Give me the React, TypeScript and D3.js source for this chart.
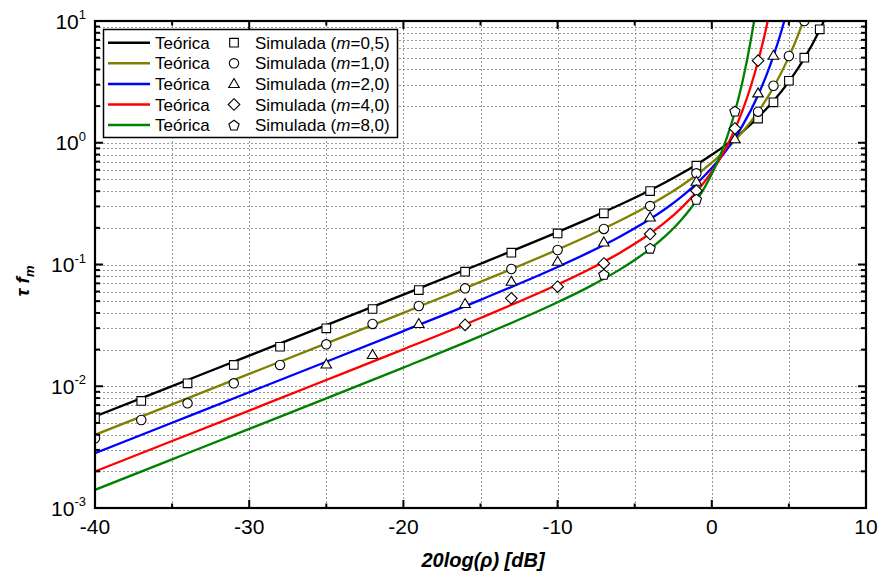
import React from 'react';
import * as d3 from 'd3';

const W = 882;
const H = 579;
const PL = 95, PR = 866, PT = 21, PB = 508;

// x axis ticks (dB)
const xMajorTicks = [-40, -30, -20, -10, 0, 10];
const xMinorTicks = [-35, -25, -15, -5, 5];
const yDecadeExps = [-3, -2, -1, 0, 1];

// Theoretical curves
const thX_m05 = [-40, -35, -30, -25, -20, -15, -10, -8, -6, -4, -3, -2, -1, 0, 1, 2, 3, 4, 5, 6, 7, 7.5];
const thY_m05 = [0.005642, 0.010034, 0.017847, 0.03176, 0.05661, 0.10139, 0.18448, 0.23686, 0.30767, 0.4072, 0.47334, 0.55545, 0.65975, 0.79589, 0.97949, 1.23699, 1.615, 2.20217, 3.17774, 4.9376, 8.4476, 11.557];

const thX_m1 = [-40, -35, -30, -25, -20, -15, -10, -8, -6, -4, -3, -2, -1, 0, 0.5, 1, 2, 3, 4, 5, 5.5, 6];
const thY_m1 = [0.0039896, 0.0070955, 0.012622, 0.02247, 0.040095, 0.072077, 0.132522, 0.1721, 0.227287, 0.30919, 0.36667, 0.441679, 0.542995, 0.685495, 0.780009, 0.896608, 1.229202, 1.794594, 2.85147, 5.0756, 7.1476, 10.512];

const thX_m2 = [-40, -35, -30, -25, -20, -15, -10, -8, -6, -4, -3, -2, -1, 0, 0.5, 1, 1.5, 2, 3, 3.5, 4, 4.5, 4.75];
const thY_m2 = [0.0028211, 0.0050176, 0.0089266, 0.015897, 0.028399, 0.051238, 0.095463, 0.125172, 0.168358, 0.236354, 0.28716, 0.357486, 0.459933, 0.619066, 0.734286, 0.8871, 1.095335, 1.387847, 2.456812, 3.475285, 5.171315, 8.165463, 10.52286];

const thX_m4 = [-40, -35, -30, -25, -20, -15, -10, -8, -6, -4, -3, -2, -1, 0, 0.5, 1, 1.5, 2, 2.5, 3, 3.5, 3.75];
const thY_m4 = [0.0019949, 0.0035481, 0.0063128, 0.011245, 0.020108, 0.036389, 0.068481, 0.090647, 0.123977, 0.179582, 0.223907, 0.289445, 0.394003, 0.578432, 0.728932, 0.950677, 1.293335, 1.85312, 2.8294, 4.665816, 8.438972, 11.81057];

const thX_m8 = [-40, -35, -30, -25, -20, -15, -10, -8, -7, -6, -5, -4, -3, -2, -1, -0.5, 0, 0.5, 1, 1.5, 2, 2.5, 2.75];
const thY_m8 = [0.0014106, 0.0025089, 0.0044643, 0.0079545, 0.014231, 0.025805, 0.04891, 0.065195, 0.076259, 0.090341, 0.108888, 0.134441, 0.171776, 0.230921, 0.33548, 0.422276, 0.552763, 0.761489, 1.121033, 1.798535, 3.221354, 6.6259, 10.1054];

// Simulated points
const simX_m05 = [-40, -37, -34, -31, -28, -25, -22, -19, -16, -13, -10, -7, -4, -1, 3, 4, 5, 6, 7];
const simY_m05 = [0.00545, 0.00757, 0.01057, 0.01496, 0.0211, 0.0299, 0.0431, 0.0617, 0.0873, 0.125, 0.18, 0.263, 0.401, 0.648, 1.58, 2.15, 3.23, 5.0, 8.55];

const simX_m1 = [-40, -37, -34, -31, -28, -25, -22, -19, -16, -13, -10, -7, -4, -1, 3, 4, 5, 6];
const simY_m1 = [0.00374, 0.00528, 0.00724, 0.01057, 0.01496, 0.0221, 0.0325, 0.0456, 0.0637, 0.0918, 0.1315, 0.196, 0.302, 0.561, 1.8, 2.94, 5.16, 10.0];

const simX_m2 = [-25, -22, -19, -16, -13, -10, -7, -4, -1, 1.5, 3, 4];
const simY_m2 = [0.0151, 0.0181, 0.0325, 0.0474, 0.0722, 0.1054, 0.152, 0.244, 0.479, 1.07, 2.55, 5.19];

const simX_m4 = [-16, -13, -10, -7, -4, -1, 1.5, 3];
const simY_m4 = [0.0319, 0.0527, 0.0657, 0.102, 0.178, 0.404, 1.31, 4.72];

const simX_m8 = [-7, -4, -1, 1.5];
const simY_m8 = [0.083, 0.136, 0.343, 1.82];

const mLabels = ['0,5', '1,0', '2,0', '4,0', '8,0'];
const colors = ['#000000', '#808000', '#0000ff', '#ff0000', '#008000'];
const markerTypes = ['square', 'circle', 'triangle', 'diamond', 'pentagon'];

const FONT = '"Liberation Sans", Arial, Helvetica, sans-serif';

function markerPath(type: string): string {
  switch (type) {
    case 'square': {
      const s = 4.3;
      return `M${-s},${-s}H${s}V${s}H${-s}Z`;
    }
    case 'circle': {
      const r = 4.7;
      return `M${r},0A${r},${r} 0 1,1 ${-r},0A${r},${r} 0 1,1 ${r},0Z`;
    }
    case 'triangle': {
      const h = 9, w = 10.5;
      return `M0,${-h * 0.6}L${w / 2},${h * 0.4}L${-w / 2},${h * 0.4}Z`;
    }
    case 'diamond': {
      const d = 5.8;
      return `M0,${-d}L${d},0L0,${d}L${-d},0Z`;
    }
    default: {
      const r = 5.4;
      const pts = d3.range(5).map((k) => {
        const a = (-90 + k * 72) * Math.PI / 180;
        return [r * Math.cos(a), r * Math.sin(a) + 0.5];
      });
      return 'M' + pts.map((p) => p[0].toFixed(2) + ',' + p[1].toFixed(2)).join('L') + 'Z';
    }
  }
}

export default function App() {
  const x = d3.scaleLinear().domain([-40, 10]).range([PL, PR]);
  const y = d3.scaleLog().domain([1e-3, 10]).range([PB, PT]);
  const yAll = y.ticks();
  const yMajorVals = yDecadeExps.map((e) => Math.pow(10, e));
  const gridX = [...xMajorTicks, ...xMinorTicks];

  const thX = [thX_m05, thX_m1, thX_m2, thX_m4, thX_m8];
  const thY = [thY_m05, thY_m1, thY_m2, thY_m4, thY_m8];
  const simX = [simX_m05, simX_m1, simX_m2, simX_m4, simX_m8];
  const simY = [simY_m05, simY_m1, simY_m2, simY_m4, simY_m8];

  const line = d3
    .line<[number, number]>()
    .x((d) => x(d[0]))
    .y((d) => y(d[1]))
    .curve(d3.curveMonotoneX);

  const rowY0 = 42.7;
  const rowDy = 20.6;

  return (
    <svg
      width={W}
      height={H}
      style={{ position: 'absolute', left: 0, top: 0, background: '#fff' }}
      fontFamily={FONT}
    >
      <defs>
        <clipPath id="plotclip">
          <rect x={PL} y={PT} width={PR - PL} height={PB - PT} />
        </clipPath>
      </defs>
      <rect x={0} y={0} width={W} height={H} fill="#fff" />

      {/* grid */}
      <g stroke="#9a9a9a" strokeWidth={1} strokeDasharray="2,2">
        {yAll.map((v, i) => (
          <line key={'gy' + i} x1={PL} x2={PR} y1={Math.round(y(v)) + 0.5} y2={Math.round(y(v)) + 0.5} />
        ))}
        {gridX.map((v, i) => (
          <line key={'gx' + i} x1={Math.round(x(v)) + 0.5} x2={Math.round(x(v)) + 0.5} y1={PT} y2={PB} />
        ))}
      </g>

      {/* curves and markers */}
      <g clipPath="url(#plotclip)">
        {thX.map((xs, i) => (
          <path
            key={'c' + i}
            d={line(xs.map((v, j) => [v, thY[i][j]] as [number, number])) || ''}
            fill="none"
            stroke={colors[i]}
            strokeWidth={2.3}
          />
        ))}
        {simX.map((xs, i) =>
          xs.map((v, j) => (
            <path
              key={'m' + i + '-' + j}
              d={markerPath(markerTypes[i])}
              transform={`translate(${x(v)},${y(simY[i][j])})`}
              fill="#fff"
              stroke="#000"
              strokeWidth={1.1}
            />
          ))
        )}
      </g>

      {/* frame */}
      <rect x={PL} y={PT} width={PR - PL} height={PB - PT} fill="none" stroke="#000" strokeWidth={2.2} />

      {/* ticks */}
      <g stroke="#000" strokeWidth={2}>
        {xMajorTicks.map((v) => (
          <g key={'xt' + v}>
            <line x1={x(v)} x2={x(v)} y1={PB} y2={PB - 8} />
            <line x1={x(v)} x2={x(v)} y1={PT} y2={PT + 8} />
          </g>
        ))}
        {xMinorTicks.map((v) => (
          <g key={'xm' + v}>
            <line x1={x(v)} x2={x(v)} y1={PB} y2={PB - 4.5} />
            <line x1={x(v)} x2={x(v)} y1={PT} y2={PT + 4.5} />
          </g>
        ))}
        {yAll.map((v, i) => {
          const major = yMajorVals.some((m) => Math.abs(m - v) / m < 1e-6);
          const len = major ? 8 : 5;
          return (
            <g key={'yt' + i}>
              <line x1={PL} x2={PL + len} y1={y(v)} y2={y(v)} />
              <line x1={PR} x2={PR - len} y1={y(v)} y2={y(v)} />
            </g>
          );
        })}
      </g>

      {/* tick labels */}
      <g fontSize={21} fill="#000">
        {xMajorTicks.map((v) => (
          <text key={'xl' + v} x={x(v)} y={534} textAnchor="middle">
            {v < 0 ? '-' + Math.abs(v) : String(v)}
          </text>
        ))}
        {yDecadeExps.map((e) => (
          <text key={'yl' + e} x={86} y={y(Math.pow(10, e)) + 7.5} textAnchor="end">
            10
            <tspan dy={-9.5} fontSize={13}>
              {e < 0 ? '-' + Math.abs(e) : String(e)}
            </tspan>
          </text>
        ))}
      </g>

      {/* axis titles */}
      <text x={483} y={567} textAnchor="middle" fontSize={20} fontWeight="bold" fontStyle="italic">
        20log(ρ) [dB]
      </text>
      <text
        transform="translate(29,281) rotate(-90)"
        textAnchor="middle"
        fontSize={19}
        fontWeight="bold"
        fontStyle="italic"
      >
        τ f
        <tspan dy={5} fontSize={13}>
          m
        </tspan>
      </text>

      {/* legend */}
      <g>
        <rect x={103.5} y={29.5} width={294} height={108} fill="#fff" stroke="#000" strokeWidth={1.5} />
        {mLabels.map((lab, i) => {
          const cy = rowY0 + i * rowDy;
          return (
            <g key={'lg' + i}>
              <line x1={108} x2={150} y1={cy} y2={cy} stroke={colors[i]} strokeWidth={2.5} />
              <text x={155} y={cy + 6} fontSize={17}>
                Teórica
              </text>
              <path d={markerPath(markerTypes[i])} transform={`translate(234,${cy})`} fill="#fff" stroke="#000" strokeWidth={1.1} />
              <text x={255} y={cy + 6} fontSize={17}>
                Simulada (<tspan fontStyle="italic">m</tspan>={lab})
              </text>
            </g>
          );
        })}
      </g>
    </svg>
  );
}
